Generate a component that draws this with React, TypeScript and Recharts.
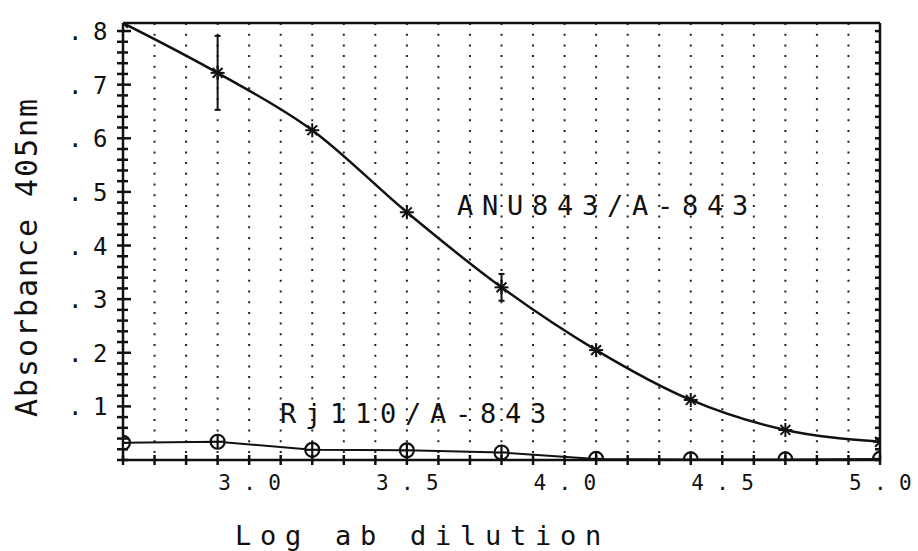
import {
  LineChart,
  Line,
  XAxis,
  YAxis,
  CartesianGrid,
  ErrorBar,
  ReferenceLine,
} from "recharts";

// log10 of the antibody dilution (two-fold steps)
const dilution = [2.6, 2.9, 3.2, 3.5, 3.8, 4.1, 4.4, 4.7, 5.0];

// absorbance at 405nm
const anu843 = [0.815, 0.722, 0.615, 0.462, 0.322, 0.205, 0.112, 0.056, 0.034];
const anu843Err = [0, 0.069, 0, 0, 0.025, 0, 0, 0, 0];
const rj110 = [0.032, 0.034, 0.019, 0.018, 0.014, 0.002, 0.001, 0.001, 0.002];

const xLabels = [3.0, 3.5, 4.0, 4.5, 5.0];
const yLabels = [0.1, 0.2, 0.3, 0.4, 0.5, 0.6, 0.7, 0.8];

const X_MIN = 2.6;
const X_MAX = 5.0;
const Y_MAX = 0.815;

const rows = dilution.map((x, i) => ({
  x,
  anu: anu843[i],
  anuErr: anu843Err[i],
  rj: rj110[i],
}));

// minor tick positions: every 0.1 on x, every 0.02 on y
const xTicks: number[] = [];
for (let k = 26; k <= 50; k++) xTicks.push(k / 10);
const yTicks: number[] = [];
for (let k = 0; k <= 40; k++) yTicks.push(k / 50);

const INK = "#111";
const FONT = "'DejaVu Sans Mono', monospace";
const PITCH = 25; // plotter character pitch

const near = (a: number, b: number) => Math.abs(a - b) < 1e-6;

// monospaced text laid out one character per fixed pitch
function Spaced(props: { x: number; y: number; text: string; size: number; pitch?: number }) {
  const { x, y, text, size, pitch = PITCH } = props;
  return (
    <text y={y} fontFamily={FONT} fontSize={size} fill={INK}>
      {text.split("").map((c, i) => (
        <tspan key={i} x={x + i * pitch}>
          {c}
        </tspan>
      ))}
    </text>
  );
}

const X_TICK = 5;
const Y_TICK = 6;

// outward half of each tick comes from tickLine, the inward half is drawn here
function XTick(props: any) {
  const { x, y, payload } = props;
  const v = payload.value as number;
  const axisY = y - X_TICK;
  const labelled = xLabels.some((l) => near(l, v));
  return (
    <g>
      <line x1={x} x2={x} y1={axisY} y2={axisY - 5} stroke={INK} strokeWidth={2.5} />
      {labelled && <Spaced x={x - 31} y={axisY + 30} text={v.toFixed(1)} size={21} />}
    </g>
  );
}

function YTick(props: any) {
  const { x, y, payload } = props;
  const v = payload.value as number;
  const axisX = x + Y_TICK;
  const labelled = yLabels.some((l) => near(l, v));
  return (
    <g>
      <line x1={axisX} x2={axisX + (labelled ? 8 : 5)} y1={y} y2={y} stroke={INK} strokeWidth={2.5} />
      {labelled && <Spaced x={axisX - 55} y={y + 9} text={"." + Math.round(v * 10)} size={24} />}
    </g>
  );
}

function NoLabel() {
  return <g />;
}

function StarDot(props: any) {
  const { cx, cy } = props;
  if (cx == null || cy == null) return <g />;
  const r = 7;
  const d = r * 0.7;
  return (
    <g stroke={INK} strokeWidth={2}>
      <line x1={cx - r} x2={cx + r} y1={cy} y2={cy} />
      <line x1={cx} x2={cx} y1={cy - r} y2={cy + r} />
      <line x1={cx - d} x2={cx + d} y1={cy - d} y2={cy + d} />
      <line x1={cx - d} x2={cx + d} y1={cy + d} y2={cy - d} />
    </g>
  );
}

function CircleDot(props: any) {
  const { cx, cy } = props;
  if (cx == null || cy == null) return <g />;
  return (
    <g stroke={INK} strokeWidth={2.2}>
      <circle cx={cx} cy={cy} r={7} fill="#fff" />
      <line x1={cx - 7} x2={cx + 7} y1={cy} y2={cy} />
      <line x1={cx} x2={cx} y1={cy - 7} y2={cy + 7} />
    </g>
  );
}

export default function App() {
  return (
    <div style={{ position: "absolute", left: 0, top: 0, width: 918, height: 551, background: "#fff" }}>
      <LineChart
        width={918}
        height={551}
        data={rows}
        margin={{ top: 23, right: 38, bottom: 0, left: 0 }}
      >
        <CartesianGrid
          yAxisId="l"
          horizontal={false}
          stroke="#222"
          strokeWidth={2}
          strokeDasharray="2 8.7"
        />
        <XAxis
          dataKey="x"
          type="number"
          domain={[X_MIN, X_MAX]}
          ticks={xTicks}
          interval={0}
          height={91}
          tickSize={X_TICK}
          tickMargin={0}
          tickLine={{ stroke: INK, strokeWidth: 2.5 }}
          tick={<XTick />}
          axisLine={{ stroke: INK, strokeWidth: 2.5 }}
          allowDataOverflow
        />
        <YAxis
          yAxisId="l"
          type="number"
          domain={[0, Y_MAX]}
          ticks={yTicks}
          interval={0}
          width={123}
          tickSize={Y_TICK}
          tickMargin={0}
          tickLine={{ stroke: INK, strokeWidth: 2.5 }}
          tick={<YTick />}
          axisLine={{ stroke: INK, strokeWidth: 2.5 }}
          allowDataOverflow
        />
        <YAxis
          yAxisId="r"
          orientation="right"
          mirror
          type="number"
          domain={[0, Y_MAX]}
          ticks={yTicks}
          interval={0}
          width={38}
          tickSize={5}
          tickMargin={0}
          tickLine={{ stroke: INK, strokeWidth: 2.5 }}
          tick={<NoLabel />}
          axisLine={{ stroke: INK, strokeWidth: 2.5 }}
          allowDataOverflow
        />
        <ReferenceLine yAxisId="l" y={Y_MAX} stroke={INK} strokeWidth={2.5} />
        <Line
          yAxisId="l"
          dataKey="rj"
          type="linear"
          stroke={INK}
          strokeWidth={2}
          dot={(p: any) => <CircleDot key={`rj-${p.index}`} {...p} />}
          isAnimationActive={false}
        />
        <Line
          yAxisId="l"
          dataKey="anu"
          type="monotone"
          stroke={INK}
          strokeWidth={2.5}
          dot={(p: any) => <StarDot key={`anu-${p.index}`} {...p} />}
          isAnimationActive={false}
        >
          <ErrorBar dataKey="anuErr" direction="y" width={3} stroke={INK} strokeWidth={2} />
        </Line>
        <Spaced x={457} y={215} text="ANU843/A-843" size={27} />
        <Spaced x={280} y={423} text="Rj110/A-843" size={27} />
        <Spaced x={235} y={545} text="Log ab dilution" size={27} />
        <g transform="translate(37,417) rotate(-90)">
          <Spaced x={0} y={0} text="Absorbance 405nm" size={30} pitch={20} />
        </g>
      </LineChart>
    </div>
  );
}
